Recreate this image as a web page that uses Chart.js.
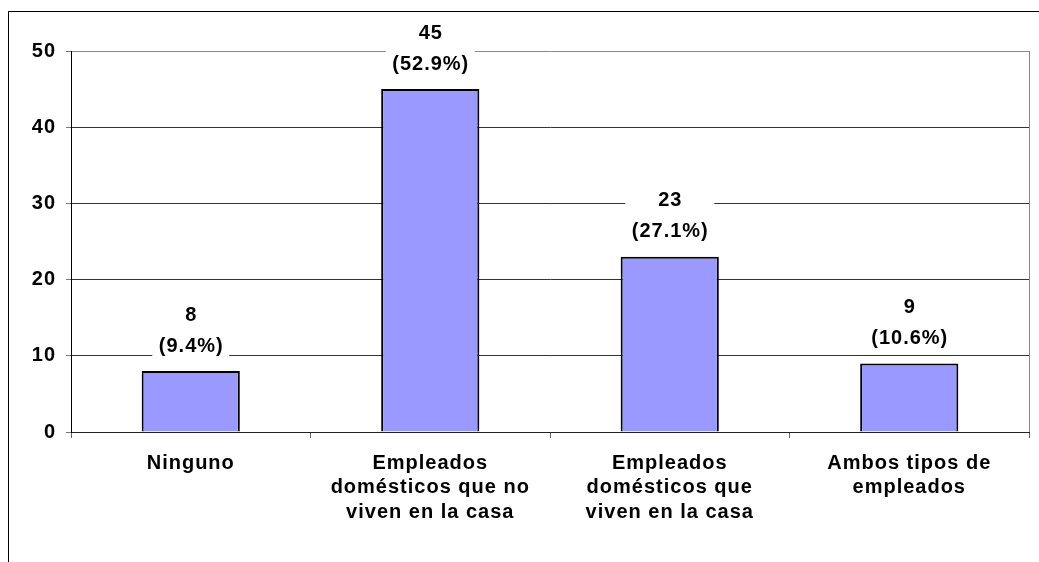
<!DOCTYPE html>
<html>
<head>
<meta charset="utf-8">
<script src="https://cdn.jsdelivr.net/npm/chart.js@4"></script>
<style>
  html, body { margin: 0; padding: 0; background: #fff; }
  #wrap { position: relative; width: 1039px; height: 562px; overflow: hidden; }
  #frame { position: absolute; left: 8px; top: 11px; width: 1200px; height: 700px;
           border-left: 1px solid #000; border-top: 1px solid #000; }
  canvas { position: absolute; left: 0; top: 0; }
</style>
</head>
<body>
<div id="wrap">
  <div id="frame"></div>
  <canvas id="chart"></canvas>
</div>
<script>
// data
const categories = [
  ['Ninguno'],
  ['Empleados', 'domésticos que no', 'viven en la casa'],
  ['Empleados', 'domésticos que', 'viven en la casa'],
  ['Ambos tipos de', 'empleados'],
];
const counts = [8, 45, 23, 9];
const shares = ['9.4%', '52.9%', '27.1%', '10.6%'];
const yMax = 50;
const yStep = 10;

const FONT = "'Liberation Sans', Arial, sans-serif";
const SIZE = 20;
const SPACING = '1px';

Chart.defaults.font.family = FONT;
Chart.defaults.color = '#000';

// Excel-ish wide letter spacing on every text the chart draws
const spacingPlugin = {
  id: 'spacing',
  beforeLayout(chart) { chart.ctx.letterSpacing = SPACING; },
  beforeDraw(chart) { chart.ctx.letterSpacing = SPACING; },
};

// gray right edge of the plot area
const plotBorder = {
  id: 'plotBorder',
  beforeDatasetsDraw(chart) {
    const { ctx, chartArea: a } = chart;
    ctx.save();
    ctx.strokeStyle = '#888';
    ctx.lineWidth = 1;
    ctx.beginPath();
    ctx.moveTo(a.right + 0.5, a.top);
    ctx.lineTo(a.right + 0.5, a.bottom);
    ctx.stroke();
    ctx.restore();
  },
};

// two-line value labels with white box over the gridlines
const valueLabels = {
  id: 'valueLabels',
  afterDatasetsDraw(chart) {
    const { ctx } = chart;
    const meta = chart.getDatasetMeta(0);
    ctx.save();
    ctx.letterSpacing = SPACING;
    ctx.font = `bold ${SIZE}px ${FONT}`;
    ctx.textAlign = 'center';
    ctx.textBaseline = 'middle';
    meta.data.forEach((bar, i) => {
      const top = bar.y;
      const line1 = String(counts[i]);
      const line2 = `(${shares[i]})`;
      const y2 = top - 25;
      const y1 = top - 56;
      const w = Math.max(ctx.measureText(line1).width, ctx.measureText(line2).width) + 12;
      ctx.fillStyle = '#fff';
      ctx.fillRect(bar.x - w / 2, y1 - 13, w, (y2 + 11) - (y1 - 13));
      ctx.fillStyle = '#000';
      ctx.fillText(line1, bar.x + 0.5, y1);
      ctx.fillText(line2, bar.x + 0.5, y2);
    });
    ctx.restore();
  },
};

new Chart(document.getElementById('chart'), {
  type: 'bar',
  data: {
    labels: categories,
    datasets: [{
      data: counts,
      backgroundColor: '#9999ff',
      borderColor: '#000',
      borderWidth: 2,
      barPercentage: 0.41,
      categoryPercentage: 1,
    }],
  },
  options: {
    responsive: true,
    maintainAspectRatio: false,
    animation: false,
    layout: { padding: { top: 51, right: 10, left: 0, bottom: 0 } },
    plugins: {
      legend: { display: false },
      tooltip: { enabled: false },
    },
    scales: {
      x: {
        afterFit: (s) => { s.height = 130; },
        grid: {
          display: true,
          offset: true,
          drawOnChartArea: false,
          drawTicks: true,
          tickLength: 6,
          color: '#666',
        },
        border: { color: '#222', width: 1 },
        ticks: {
          color: '#000',
          padding: 13,
          maxRotation: 0,
          autoSkip: false,
          font: { size: SIZE, weight: 'bold', lineHeight: 1.23 },
        },
      },
      y: {
        min: 0,
        max: yMax,
        afterFit: (s) => { s.width = 71; },
        grid: {
          color: (c) => (c.tick && c.tick.value === yMax ? '#888' : '#333'),
          tickLength: 5,
          tickColor: '#777',
        },
        border: { color: '#000', width: 1 },
        ticks: {
          stepSize: yStep,
          color: '#000',
          padding: 10,
          font: { size: SIZE, weight: 'bold' },
        },
      },
    },
  },
  plugins: [spacingPlugin, plotBorder, valueLabels],
});
</script>
</body>
</html>
